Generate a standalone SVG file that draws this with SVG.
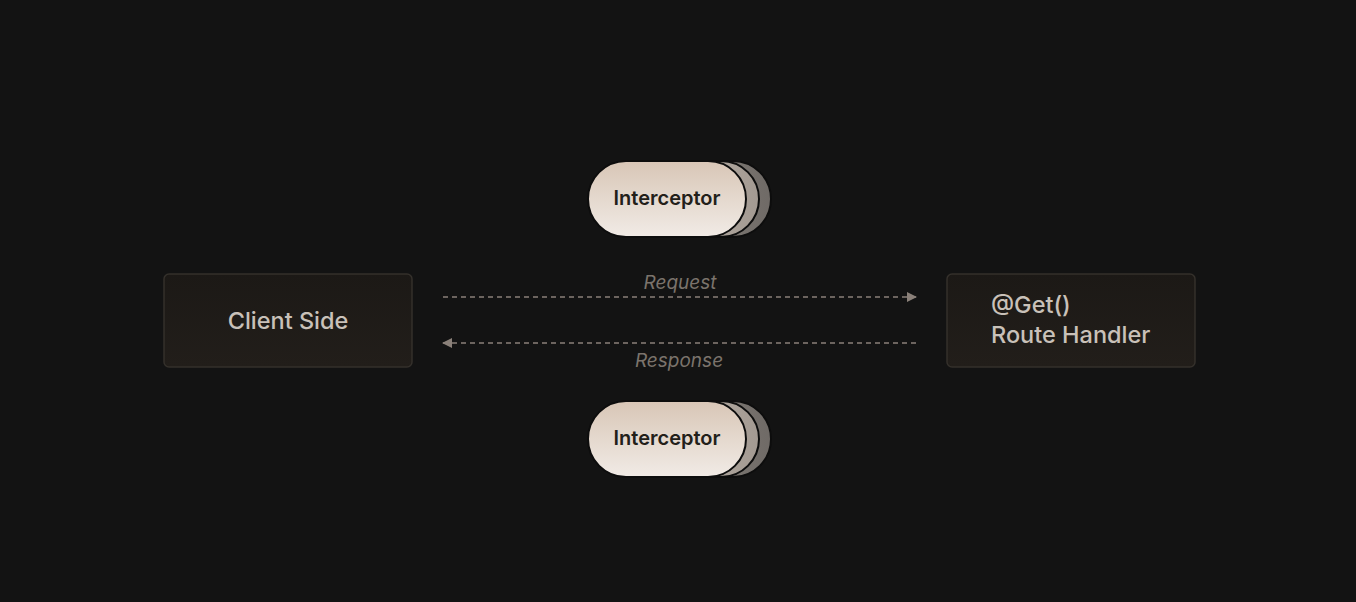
<svg xmlns="http://www.w3.org/2000/svg" width="1356" height="602" viewBox="0 0 1356 602">
<defs>
<linearGradient id="pillGrad" x1="0" y1="0" x2="0" y2="1">
<stop offset="0" stop-color="#d8c6b6"/>
<stop offset="1" stop-color="#f1ebe6"/>
</linearGradient>
<linearGradient id="boxGrad" x1="0" y1="0" x2="0" y2="1">
<stop offset="0" stop-color="#1c1916"/>
<stop offset="1" stop-color="#221e1a"/>
</linearGradient>
<linearGradient id="back1Grad" x1="0" y1="0" x2="1" y2="0">
<stop offset="0" stop-color="#c9c0b7"/>
<stop offset="1" stop-color="#a39a92"/>
</linearGradient>
<linearGradient id="back2Grad" x1="0" y1="0" x2="1" y2="0">
<stop offset="0" stop-color="#9a948e"/>
<stop offset="1" stop-color="#6f6a66"/>
</linearGradient>
<marker id="arrow" viewBox="0 0 10 10" refX="9" refY="5" markerWidth="10" markerHeight="10" markerUnits="userSpaceOnUse" orient="auto-start-reverse">
<path d="M0,0 L10,5 L0,10 z" fill="#8a8079"/>
</marker>
</defs>
<style>
.box{fill:url(#boxGrad);stroke:#34302b;stroke-width:1.5}
.boxText{font-family:Inter,"Noto Sans",sans-serif;font-size:23.5px;font-weight:500;fill:#c9c1b9}
.pill{fill:url(#pillGrad);stroke:#0d0d0d;stroke-width:2}
.back1{fill:url(#back1Grad);stroke:#0d0d0d;stroke-width:2}
.back2{fill:url(#back2Grad);stroke:#0d0d0d;stroke-width:2}
.pillText{font-family:Inter,"Noto Sans",sans-serif;font-size:20px;font-weight:600;fill:#222019}
.conn{stroke:#8a8079;stroke-width:1.6;stroke-dasharray:5 4;fill:none}
.connLabel{font-family:Inter,"Noto Sans",sans-serif;font-size:19px;font-style:italic;fill:#7b736c}
</style>
<rect width="1356" height="602" fill="#131313"/>
<g id="connectors">
<line class="conn" x1="443" y1="297" x2="916" y2="297" marker-end="url(#arrow)"/>
<line class="conn" x1="916" y1="343" x2="443" y2="343" marker-end="url(#arrow)"/>
<text class="connLabel" x="680" y="289" text-anchor="middle">Request</text>
<text class="connLabel" x="679" y="367" text-anchor="middle">Response</text>
</g>
<g id="client">
<rect class="box" x="164" y="274" width="248" height="93" rx="5"/>
<text class="boxText" x="288" y="329" text-anchor="middle">Client Side</text>
</g>
<g id="handler">
<rect class="box" x="947" y="274" width="248" height="93" rx="5"/>
<text class="boxText" x="991" y="313">@Get()</text>
<text class="boxText" x="991" y="343">Route Handler</text>
</g>
<g id="interceptor-top">
<rect class="back2" x="613" y="161" width="158" height="76" rx="38"/>
<rect class="back1" x="601" y="161" width="158" height="76" rx="38"/>
<rect class="pill" x="588" y="161" width="158" height="76" rx="38"/>
<text class="pillText" x="667" y="205" text-anchor="middle">Interceptor</text>
</g>
<g id="interceptor-bottom">
<rect class="back2" x="613" y="401" width="158" height="76" rx="38"/>
<rect class="back1" x="601" y="401" width="158" height="76" rx="38"/>
<rect class="pill" x="588" y="401" width="158" height="76" rx="38"/>
<text class="pillText" x="667" y="445" text-anchor="middle">Interceptor</text>
</g>
</svg>
